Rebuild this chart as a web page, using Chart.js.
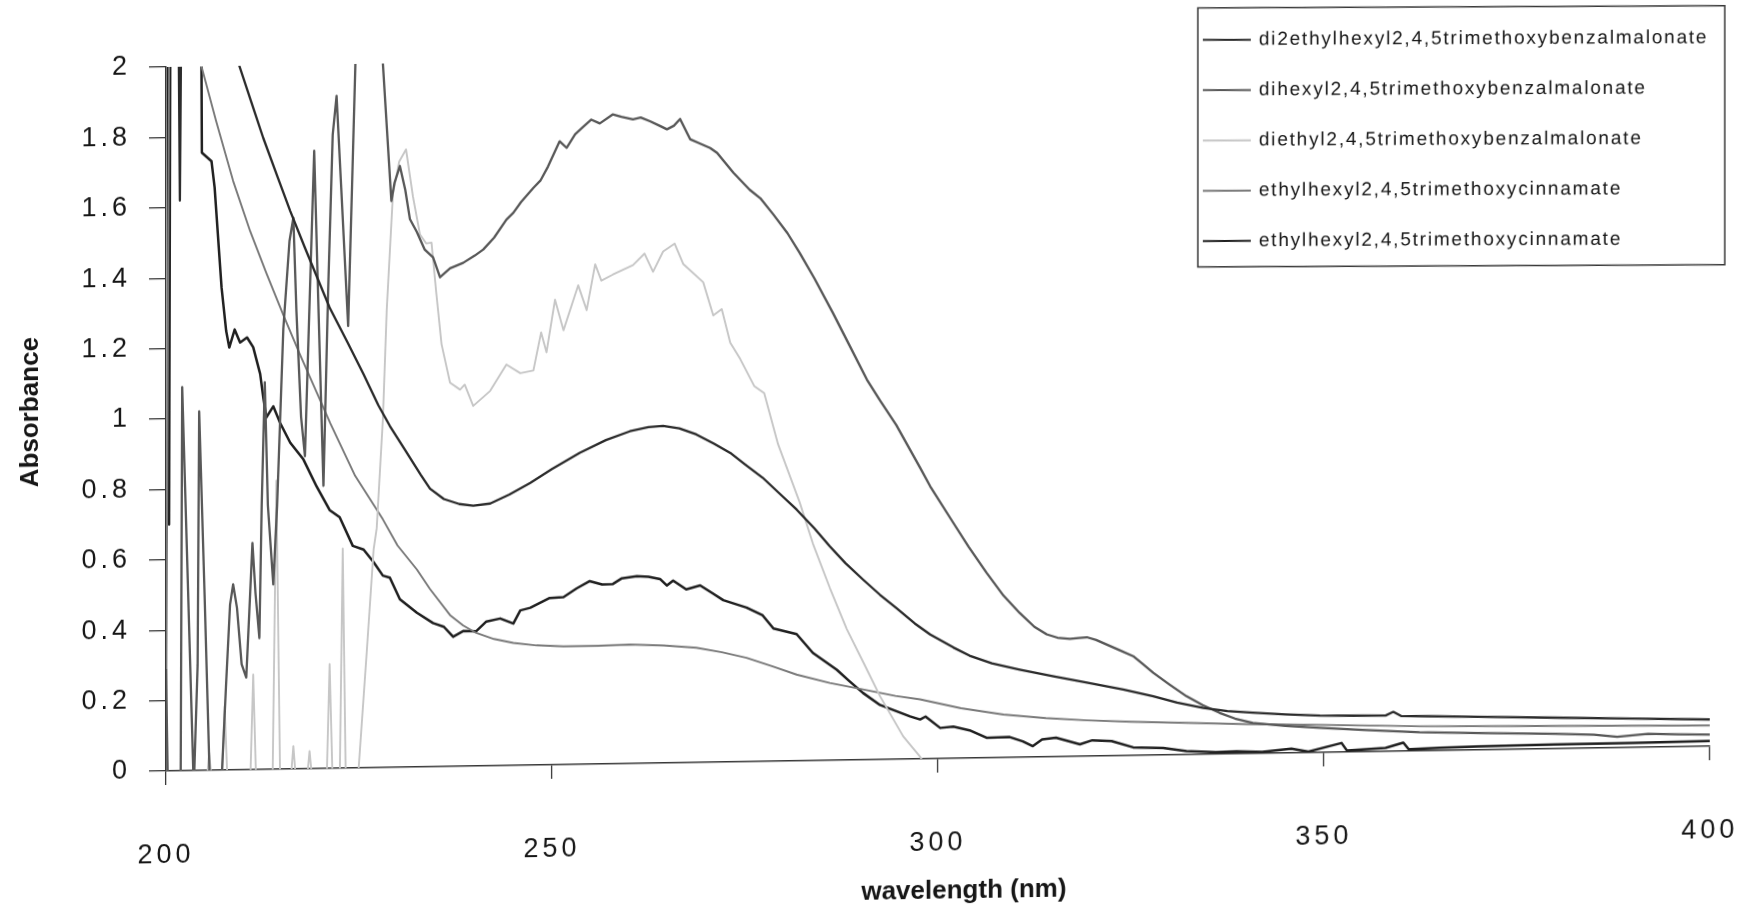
<!DOCTYPE html>
<html>
<head>
<meta charset="utf-8">
<title>UV absorbance spectra</title>
<script src="https://cdn.jsdelivr.net/npm/chart.js@4.4.1/dist/chart.umd.min.js"></script>
<style>
  html, body { margin: 0; padding: 0; background: #fff; overflow: hidden; }
  /* the printed figure was scanned a little askew, so the chart is skewed the same way */
  #wrap { position: absolute; left: 0; top: 0; width: 1747px; height: 940px;
          transform-origin: 166px 771px; transform: skewY(-0.92deg); }
</style>
</head>
<body>
<div id="wrap"><canvas id="absChart" width="1747" height="940"></canvas></div>
<script>
// [wavelength nm, absorbance]
const di2ethylhexylMalonate = [
  [200,2.5],[201.5,2.5],[201.8,1.62],[202.1,2.5],[207,2.25],[208,2.12],[209.5,2.0],[211,1.9],[212.6,1.794],
  [214.5,1.68],[216.1,1.585],[218,1.48],[219.5,1.4],[221.2,1.309],[223.5,1.21],[225.6,1.118],[227.5,1.03],
  [229,0.97],[231,0.9],[233,0.83],[234.2,0.79],[236,0.76],[238,0.745],[239.8,0.74],[242,0.745],[244.5,0.77],
  [247.2,0.802],[250,0.84],[253.6,0.885],[257,0.92],[260.1,0.944],[262.5,0.955],[264.4,0.958],[266.5,0.95],
  [268.7,0.932],[271,0.905],[273.1,0.878],[275,0.845],[277.3,0.806],[279.5,0.76],[281.7,0.714],[284,0.66],
  [286,0.608],[288,0.56],[290.3,0.512],[292.5,0.468],[294.6,0.43],[297,0.385],[299,0.353],[302,0.315],
  [304.1,0.291],[307,0.268],[310.6,0.249],[315,0.228],[319.3,0.209],[324,0.188],[327.9,0.167],[331,0.148],
  [334.4,0.132],[337.5,0.122],[340.8,0.116],[345,0.11],[349.5,0.105],[354,0.103],[358,0.102],[359,0.112],
  [360,0.1],[363.5,0.098],[370,0.094],[380,0.088],[390,0.082],[400,0.076]
];
const dihexylMalonate = [
  [200,0.29],[200.25,-0.05],[201.9,-0.05],[202.1,1.09],[203.6,-0.05],[204.1,0.3],[204.3,1.02],[205,0.5],
  [205.7,-0.05],[207.2,-0.03],[207.8,0.25],[208.3,0.47],[208.7,0.527],[209.2,0.46],[209.8,0.3],[210.4,0.262],
  [210.8,0.45],[211.2,0.644],[211.6,0.5],[212.1,0.373],[212.4,0.75],[212.8,1.1],[213.2,0.75],[213.9,0.525],
  [214.4,0.75],[215.2,1.25],[216,1.5],[216.5,1.566],[216.9,1.3],[217.5,1.0],[218,0.888],[218.5,1.25],
  [219.2,1.755],[219.7,1.35],[220.4,0.803],[221,1.35],[221.6,1.8],[222.1,1.91],[222.7,1.65],[223.6,1.256],
  [224.1,1.65],[224.6,2.05],[225,2.3],[227.6,2.3],[228.1,2.0],[229.2,1.609],[229.6,1.66],[230.3,1.708],
  [231,1.64],[231.6,1.557],[232.5,1.52],[233.5,1.47],[234.6,1.447],[235.5,1.39],[236.8,1.415],[238.5,1.43],
  [240,1.45],[241.1,1.467],[242.5,1.5],[244.1,1.551],[245,1.57],[246,1.6],[247.6,1.64],[248.5,1.66],
  [249.5,1.7],[251,1.771],[251.9,1.752],[253,1.79],[254,1.81],[255.1,1.831],[256.2,1.82],[257.9,1.845],
  [259,1.838],[260.5,1.83],[261.5,1.835],[262.7,1.824],[264,1.81],[264.9,1.8],[265.8,1.81],[266.6,1.829],
  [267.9,1.771],[269,1.76],[270.5,1.745],[271.4,1.731],[273.5,1.674],[275.6,1.625],[277,1.6],[278.7,1.553],
  [280.5,1.5],[282.1,1.443],[284,1.37],[286.4,1.271],[288.5,1.18],[290.8,1.08],[292.5,1.02],[294.6,0.95],
  [297.7,0.827],[299,0.774],[302,0.669],[304,0.6],[306.3,0.526],[308.5,0.46],[310.6,0.41],[312.5,0.37],
  [314.1,0.348],[315.5,0.338],[317.1,0.334],[318.3,0.336],[319.3,0.338],[320.5,0.33],[322,0.315],[323.5,0.3],
  [325.3,0.282],[326.5,0.26],[327.9,0.234],[330,0.2],[332.2,0.166],[334.3,0.14],[336.5,0.117],[338.5,0.1],
  [340.8,0.087],[345,0.077],[349.5,0.07],[355,0.062],[362.4,0.053],[370,0.048],[380,0.042],[385,0.038],
  [388,0.031],[392,0.038],[396,0.035],[400,0.033]
];
const diethylMalonate = [
  [200,-0.1],[205.2,-0.05],[205.6,0.05],[206,-0.05],[207.2,-0.05],[207.6,0.18],[208,-0.05],[210.9,-0.05],
  [211.3,0.27],[211.7,-0.05],[213.8,-0.05],[214.3,0.82],[214.8,-0.05],[216.2,-0.02],[216.5,0.065],[216.8,-0.02],
  [218.3,-0.02],[218.6,0.05],[218.9,-0.02],[220.8,-0.05],[221.2,0.296],[221.6,-0.05],[222.5,-0.05],[222.9,0.624],
  [223.3,-0.05],[224.9,-0.02],[226,0.326],[226.9,0.62],[227.3,0.68],[228.1,0.99],[228.6,1.3],[229.4,1.628],
  [230.2,1.72],[231.1,1.755],[232,1.62],[232.9,1.513],[233.7,1.487],[234.4,1.489],[235,1.35],[235.7,1.2],
  [236.8,1.09],[238.1,1.07],[238.7,1.084],[239.8,1.023],[242,1.065],[244.1,1.139],[245.9,1.114],[247.6,1.121],
  [248.6,1.229],[249.3,1.172],[250.4,1.321],[251.5,1.234],[253.4,1.361],[254.5,1.29],[255.6,1.42],[256.4,1.373],
  [257.9,1.39],[260.5,1.416],[262,1.448],[263.1,1.396],[264.4,1.453],[265.9,1.475],[267,1.417],[269.6,1.364],
  [270.9,1.269],[272,1.287],[273.1,1.191],[274.4,1.144],[276.2,1.067],[277.5,1.046],[279.3,0.9],[282.1,0.734],
  [283.8,0.617],[286,0.49],[288.2,0.372],[290.5,0.27],[292.5,0.18],[295.5,0.065],[297.7,0.006],[299,-0.04],
  [300,-0.08]
];
const ethylhexylCinnamateA = [
  [200,0],[200.5,2.5],[204,2.1],[204.6,2.0],[206.5,1.844],[208.7,1.673],[210.9,1.53],[213,1.41],[215.2,1.29],
  [217.3,1.18],[219.5,1.07],[221.3,0.98],[224.5,0.83],[228.1,0.705],[230,0.63],[232.5,0.561],[234.2,0.505],
  [236.8,0.43],[238.5,0.4],[240.2,0.378],[242.5,0.36],[245,0.348],[248,0.34],[251.5,0.336],[256,0.336],
  [260.1,0.338],[264.5,0.334],[268.7,0.326],[272,0.312],[275.2,0.295],[278.5,0.27],[281.7,0.245],[286,0.22],
  [290.3,0.2],[294.5,0.18],[297.7,0.169],[303,0.142],[308.5,0.122],[314,0.11],[319.3,0.102],[325,0.096],
  [332.2,0.09],[340,0.084],[345.2,0.081],[355,0.075],[362.4,0.07],[375,0.066],[390,0.062],[400,0.059]
];
const ethylhexylCinnamateB = [
  [200,2.5],[200.2,2.5],[200.4,0.7],[200.6,2.5],[204.5,2.5],[204.65,1.755],[205.9,1.73],[206.3,1.656],
  [207.2,1.371],[207.8,1.247],[208.2,1.2],[208.9,1.251],[209.6,1.214],[210.5,1.228],[211.3,1.2],[212.2,1.124],
  [212.6,1.057],[213,1.0],[213.9,1.031],[214.8,0.983],[216.1,0.927],[217.8,0.879],[219.5,0.802],[221.2,0.734],
  [222.5,0.713],[224.2,0.631],[225.6,0.62],[226.9,0.584],[228.1,0.545],[229,0.539],[230.3,0.477],[232.5,0.438],
  [234.6,0.408],[236,0.397],[237.2,0.368],[238.5,0.384],[240.2,0.383],[241.5,0.41],[243.3,0.418],[245,0.403],
  [245.9,0.44],[247.2,0.447],[249.7,0.474],[251.5,0.476],[253.2,0.5],[254.9,0.52],[256.5,0.51],[257.9,0.511],
  [259,0.526],[261,0.532],[262.5,0.53],[264,0.523],[264.9,0.504],[265.7,0.518],[267.4,0.492],[269.2,0.503],
  [270.8,0.48],[272.2,0.46],[275.2,0.438],[277.3,0.415],[278.7,0.377],[281.7,0.36],[283.8,0.306],[286.9,0.257],
  [288.5,0.225],[290.3,0.19],[292.5,0.155],[296.4,0.121],[297.7,0.112],[298.4,0.12],[300.3,0.087],[302,0.09],
  [304.1,0.079],[306.3,0.057],[309.3,0.058],[311,0.045],[312.3,0.031],[313.5,0.05],[315.3,0.054],[318.4,0.034],
  [320,0.045],[322.5,0.042],[325.3,0.023],[329.2,0.02],[332.2,0.01],[336,0.006],[338.7,0.007],[342,0.004],
  [345.8,0.012],[348,0.003],[352.3,0.026],[353,0.004],[358,0.01],[360.3,0.024],[361,0.005],[365,0.008],
  [370,0.01],[380,0.012],[390,0.013],[400,0.015]
];

const seriesNames = [
  'di2ethylhexyl2,4,5trimethoxybenzalmalonate',
  'dihexyl2,4,5trimethoxybenzalmalonate',
  'diethyl2,4,5trimethoxybenzalmalonate',
  'ethylhexyl2,4,5trimethoxycinnamate',
  'ethylhexyl2,4,5trimethoxycinnamate'
];
const seriesColors = ['#2b2b2b', '#585858', '#c6c6c6', '#7a7a7a', '#202020'];
const seriesWidths = [2.3, 2.3, 1.9, 1.9, 2.5];
const xTickValues = [200, 250, 300, 350, 400];
const yTickValues = [0, 0.2, 0.4, 0.6, 0.8, 1, 1.2, 1.4, 1.6, 1.8, 2];
const yTickLabels = ['0', '0.2', '0.4', '0.6', '0.8', '1', '1.2', '1.4', '1.6', '1.8', '2'];
const xTitle = 'wavelength (nm)';
const yTitle = 'Absorbance';

const allSeries = [di2ethylhexylMalonate, dihexylMalonate, diethylMalonate,
                   ethylhexylCinnamateA, ethylhexylCinnamateB];

// the printed tick numbers are widely spaced
const wideTicks = {
  id: 'wideTicks',
  beforeDraw(chart) { chart.ctx.letterSpacing = '4px'; },
  afterDraw(chart) { chart.ctx.letterSpacing = '0px'; }
};

// axis titles and the boxed legend sit where the original figure put them
const paperText = {
  id: 'paperText',
  afterDraw(chart) {
    const ctx = chart.ctx;
    ctx.save();
    ctx.letterSpacing = '0px';
    ctx.fillStyle = '#161616';
    ctx.font = 'bold 26px "Liberation Sans", Arial, sans-serif';
    ctx.textAlign = 'center';
    ctx.textBaseline = 'middle';
    ctx.fillText(xTitle, 964, 904);
    ctx.translate(31, 410);
    ctx.rotate(-Math.PI / 2);
    ctx.fillText(yTitle, 0, 0);
    ctx.restore();

    const box = { x: 1198, y: 24.5, w: 527, h: 259 };
    ctx.save();
    ctx.translate(box.x, box.y);
    ctx.transform(1, 0.012, 0, 1, 0, 0);   // the legend is less tilted than the axes on the scan
    ctx.strokeStyle = '#383838';
    ctx.lineWidth = 1.5;
    ctx.strokeRect(0, 0, box.w, box.h);
    ctx.font = '19px "Liberation Sans", Arial, sans-serif';
    ctx.letterSpacing = '1.8px';
    ctx.textAlign = 'left';
    ctx.textBaseline = 'middle';
    chart.data.datasets.forEach((ds, i) => {
      const y = 32 + i * 50.3;
      ctx.strokeStyle = ds.borderColor;
      ctx.lineWidth = 2;
      ctx.beginPath();
      ctx.moveTo(5, y);
      ctx.lineTo(53, y);
      ctx.stroke();
      ctx.fillStyle = '#141414';
      ctx.fillText(ds.label, 61, y);
    });
    ctx.restore();
  }
};

const tickFont = { family: '"Liberation Sans", Arial, sans-serif', size: 27 };

const ctx = document.getElementById('absChart').getContext('2d');
new Chart(ctx, {
  type: 'line',
  data: {
    datasets: allSeries.map((pts, i) => ({
      label: seriesNames[i],
      data: pts.map(p => ({ x: p[0], y: p[1] })),
      borderColor: seriesColors[i],
      borderWidth: seriesWidths[i],
      pointRadius: 0,
      tension: 0,
      borderJoinStyle: 'round',
      fill: false
    }))
  },
  options: {
    responsive: false,
    animation: false,
    layout: { autoPadding: false, padding: { left: 0, right: 37, top: 67, bottom: 0 } },
    plugins: {
      legend: { display: false },
      tooltip: { enabled: false }
    },
    scales: {
      x: {
        type: 'linear',
        min: 200,
        max: 400,
        afterFit: s => { s.height = 169; s.paddingLeft = 0; s.paddingRight = 0; },
        afterBuildTicks: s => { s.ticks = xTickValues.map(v => ({ value: v })); },
        ticks: { padding: 54, color: '#161616', font: tickFont, maxRotation: 0, callback: v => String(v) },
        grid: { drawOnChartArea: false, tickLength: 14, color: '#383838', lineWidth: 1.3 },
        border: { color: '#383838', width: 1.5 }
      },
      y: {
        min: 0,
        max: 2,
        afterFit: s => { s.width = 166; s.paddingTop = 0; s.paddingBottom = 0; },
        afterBuildTicks: s => { s.ticks = yTickValues.map(v => ({ value: v })); },
        ticks: { padding: 18, color: '#161616', font: tickFont, callback: (v, i) => yTickLabels[i] },
        grid: { drawOnChartArea: false, tickLength: 17, color: '#383838', lineWidth: 1.3 },
        border: { color: '#383838', width: 1.5 }
      }
    }
  },
  plugins: [wideTicks, paperText]
});
</script>
</body>
</html>
